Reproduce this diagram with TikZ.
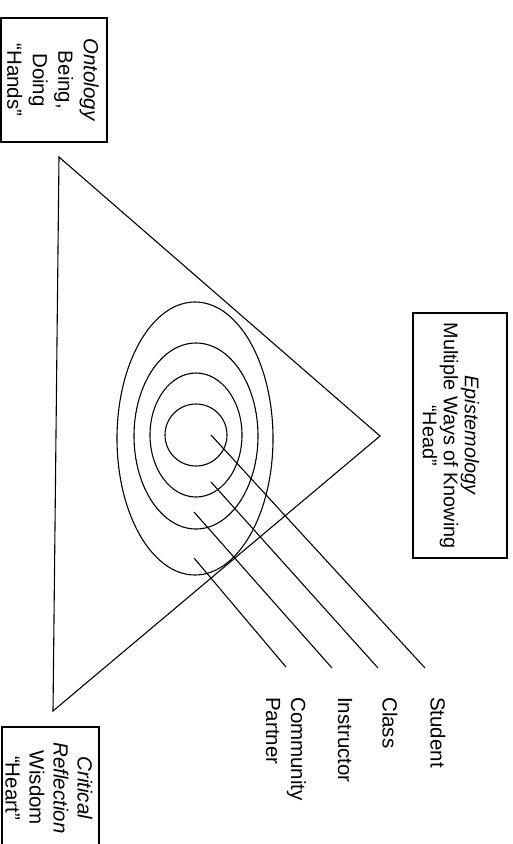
\documentclass[tikz,border=0pt]{standalone}
\usepackage{fontspec}
\setmainfont{Liberation Sans}
\usetikzlibrary{shapes.geometric}
\begin{document}
\begin{tikzpicture}[x=1pt,y=-1pt,
  ln/.style={line width=1.1pt},
  ring/.style={draw, ellipse, line width=1.1pt, inner sep=0pt},
  boxframe/.style={draw, line width=1.1pt, inner sep=0pt},
  vtext/.style={rotate=-90, inner sep=0pt, align=center},
  lbl/.style={rotate=-90, inner sep=0pt, anchor=west, align=left, font=\fontsize{20.5}{25}\selectfont},
]
\clip (0,0) rectangle (513,844);
\fill[white] (0,0) rectangle (513,844);

% Ontology box
\node[boxframe, minimum width=106pt, minimum height=124pt] (ontbox) at (54,80) {};
\node[vtext, font=\fontsize{20.5}{25.5}\selectfont] (ont) at (53,80) {\textit{Ontology}\\Being,\\Doing\\“Hands”};

% Epistemology box
\node[boxframe, minimum width=94pt, minimum height=245pt] (epibox) at (460,435.5) {};
\node[vtext, font=\fontsize{19.8}{21}\selectfont] (epi) at (451,435.5) {\textit{Epistemology}\\Multiple Ways of Knowing\\“Head”};

% Critical reflection box
\node[boxframe, minimum width=97pt, minimum height=122pt] (critbox) at (50.5,788) {};
\node[vtext, font=\fontsize{20.5}{24}\selectfont] (crit) at (49,788) {\textit{Critical}\\\textit{Reflection}\\Wisdom\\“Heart”};

% Triangle
\coordinate (tA) at (59,157);
\coordinate (tB) at (380,436);
\coordinate (tC) at (53,711);
\draw[ln] (tA) -- (tB) -- (tC) -- cycle;

% Concentric ellipses
\node[ring, minimum width=156pt, minimum height=273pt] (e1) at (195,438.5) {};
\node[ring, minimum width=124pt, minimum height=186pt] (e2) at (196,436) {};
\node[ring, minimum width=92pt, minimum height=124pt] (e3) at (196,435) {};
\node[ring, minimum width=62pt, minimum height=62pt] (e4) at (196,435) {};

% Labels
\node[lbl] (student) at (438,697) {Student};
\node[lbl] (class) at (390,697) {Class};
\node[lbl] (instr) at (345,697) {Instructor};
\node[lbl] (partner) at (286,697) {Community\\Partner};

% Connector ends
\coordinate (sS) at (211,435);
\coordinate (sC) at (211,482);
\coordinate (sI) at (194,512);
\coordinate (sP) at (194,558);
\coordinate (eS) at (425,668);
\coordinate (eC) at (378,668);
\coordinate (eI) at (332,668);
\coordinate (eP) at (286,667);

\draw[ln] (sS) -- (eS);
\draw[ln] (sC) -- (eC);
\draw[ln] (sI) -- (eI);
\draw[ln] (sP) -- (eP);
\end{tikzpicture}
\end{document}
